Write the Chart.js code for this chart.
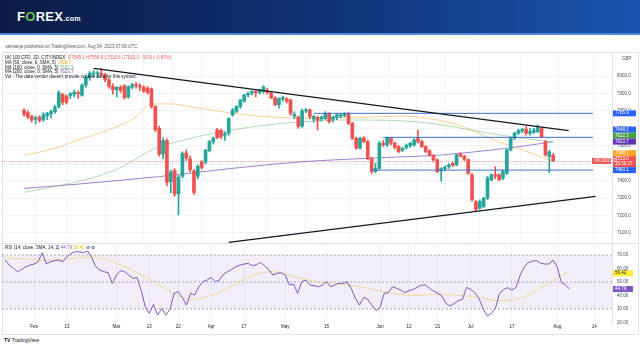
<!DOCTYPE html>
<html>
<head>
<meta charset="utf-8">
<script src="https://cdn.jsdelivr.net/npm/chart.js@4.4.0/dist/chart.umd.min.js"></script>
<style>
html, body { margin: 0; padding: 0; width: 640px; height: 360px; overflow: hidden; background: #fff;
  font-family: "Liberation Sans", Arial, sans-serif; }
#banner { position: absolute; left: 0; top: 0; width: 640px; height: 33px;
  background: linear-gradient(90deg, #0b1b45 0%, #0f2f70 45%, #1a54ad 100%); border-bottom: 2px solid #4f8ad8; }
#logo { position: absolute; left: 17px; top: 9px; color: #fff; font: bold 13px "Liberation Sans", Arial; letter-spacing: 0.3px; }
#logo .o { color: #6cc04a; }
#logo .com { font-size: 7px; }
.t { position: absolute; font-size: 4.5px; line-height: 5px; color: #131722; white-space: nowrap; }
#frame { position: absolute; left: 2px; top: 52px; width: 635px; height: 281px; border: 1px solid #e0e3eb; }
#sep { position: absolute; left: 2px; top: 243px; width: 636px; height: 1px; background: #e0e3eb; }
canvas { position: absolute; left: 0; }
</style>
</head>
<body>
<div id="banner"><div id="logo">F<span class="o">O</span>REX<span class="com">.com</span></div></div>
<div class="t" style="left:5px;top:44px;color:#555">vanvanja published on TradingView.com, Aug 04, 2023 07:09 UTC</div>
<div id="frame"></div>
<canvas id="price" width="640" height="190" style="top:53px"></canvas>
<canvas id="rsi" width="640" height="90" style="top:243px"></canvas>
<div id="sep"></div>
<div class="t" style="left:5px;top:55px">UK 100 CFD, 1D, CITYINDEX &nbsp;<span style="color:#ef5350">O7545.1 H7556.0 L7510.6 C7513.0 −50.9 (−0.67%)</span></div>
<div class="t" style="left:5px;top:60px">MA (50, close, 0, SMA, 5) <span style="color:#f2a93b">7508.7</span></div>
<div class="t" style="left:5px;top:64.5px">MA (100, close, 0, SMA, 5) <span style="color:#66bb6a">7622.3</span></div>
<div class="t" style="left:5px;top:69px">MA (200, close, 0, SMA, 5) <span style="color:#7e57c2">7623.7</span></div>
<div class="t" style="left:5px;top:73.5px">Vol · The data vendor doesn't provide volume data for this symbol.</div>
<div class="t" style="left:622px;top:56px;color:#555">GBP</div>
<div class="t" style="left:5px;top:245px">RSI (14, close, SMA, 14, 2) <span style="color:#7e57c2">44.79</span> <span style="color:#e5c100">56.42</span> ⊘ ⊘</div>
<div class="t" style="left:4px;top:338px;font-size:5px"><b>TV</b> TradingView</div>

<script>
// trading sessions (Easter Friday/Monday missing)
const dates = [
  '01-23','01-24','01-25','01-26','01-27','01-30','01-31',
  '02-01','02-02','02-03','02-06','02-07','02-08','02-09','02-10','02-13','02-14','02-15','02-16','02-17',
  '02-20','02-21','02-22','02-23','02-24','02-27','02-28',
  '03-01','03-02','03-03','03-06','03-07','03-08','03-09','03-10','03-13','03-14','03-15','03-16','03-17',
  '03-20','03-21','03-22','03-23','03-24','03-27','03-28','03-29','03-30','03-31',
  '04-03','04-04','04-05','04-06','04-11','04-12','04-13','04-14','04-17','04-18','04-19','04-20','04-21',
  '04-24','04-25','04-26','04-27','04-28',
  '05-01','05-02','05-03','05-04','05-05','05-08','05-09','05-10','05-11','05-12','05-15','05-16','05-17',
  '05-18','05-19','05-22','05-23','05-24','05-25','05-26','05-29','05-30','05-31',
  '06-01','06-02','06-05','06-06','06-07','06-08','06-09','06-12','06-13','06-14','06-15','06-16',
  '06-19','06-20','06-21','06-22','06-23','06-26','06-27','06-28','06-29','06-30',
  '07-03','07-04','07-05','07-06','07-07','07-10','07-11','07-12','07-13','07-14','07-17','07-18',
  '07-19','07-20','07-21','07-24','07-25','07-26','07-27','07-28','07-31',
  '08-01','08-02','08-03','08-04'
];
const opens = [
  7805,7790,7768,7752,7765,7748,7772,
  7784,7795,7825,7895,7885,7888,7895,7905,7890,7948,7990,8012,8014,
  8015,8008,7978,7940,7922,7935,7945,
  7880,7935,7950,7945,7935,7930,7925,7825,7700,7552,7630,7395,7458,
  7325,7425,7558,7525,7455,7425,7505,7505,7572,7622,
  7690,7688,7660,7672,7777,7798,7825,7855,7892,7901,7908,7906,7910,
  7915,7900,7875,7835,7868,
  7870,7862,7770,7765,7712,7800,7805,7752,7762,7753,7756,7786,7752,
  7762,7770,7773,7786,7729,7643,7586,7645,7624,7528,
  7452,7470,7614,7605,7643,7614,7595,7574,7590,7600,7605,7643,
  7624,7595,7570,7545,7519,7455,7468,7480,7498,7490,
  7552,7540,7520,7433,7280,7242,7251,7299,7404,7433,7433,7414,
  7442,7576,7643,7672,7685,7695,7672,7677,7681,
  7700,7624,7538,7545.1
];
const highs = [
  7812,7800,7775,7770,7772,7790,7792,
  7805,7830,7915,7900,7892,7905,7918,7915,7955,8000,8025,8032,8028,
  8045,8015,7985,7955,7940,7945,7950,
  7945,7958,7962,7955,7945,7940,7932,7830,7712,7645,7640,7460,7468,
  7430,7565,7575,7540,7465,7490,7515,7580,7630,7650,
  7700,7695,7680,7760,7815,7830,7865,7895,7905,7915,7920,7925,7945,
  7930,7910,7882,7875,7885,
  7875,7868,7795,7770,7810,7815,7812,7775,7770,7770,7795,7790,7770,
  7785,7785,7790,7792,7735,7650,7650,7652,7632,7535,
  7500,7625,7630,7650,7648,7620,7602,7592,7610,7620,7640,7690,
  7630,7600,7578,7550,7525,7475,7485,7498,7505,7552,
  7560,7545,7525,7440,7285,7290,7305,7425,7440,7480,7440,7460,
  7580,7650,7678,7695,7700,7710,7700,7700,7720,
  7705,7630,7575,7556.0
];
const lows = [
  7770,7755,7735,7725,7735,7740,7750,
  7760,7785,7815,7835,7838,7870,7880,7872,7885,7935,7975,7998,7990,
  8000,7968,7930,7895,7880,7905,7868,
  7872,7925,7930,7915,7905,7895,7815,7680,7540,7525,7370,7330,7310,
  7203,7415,7515,7450,7320,7410,7465,7495,7565,7610,
  7640,7640,7630,7660,7770,7790,7815,7850,7880,7890,7880,7895,7900,
  7895,7870,7830,7815,7855,
  7845,7775,7755,7700,7705,7790,7755,7735,7690,7740,7750,7730,7735,
  7750,7760,7765,7720,7635,7580,7580,7618,7520,7440,
  7445,7465,7595,7595,7605,7580,7560,7565,7580,7590,7598,7615,
  7590,7560,7540,7510,7445,7396,7455,7470,7482,7485,
  7535,7515,7435,7282,7222,7235,7245,7290,7398,7410,7400,7405,
  7435,7570,7635,7665,7675,7660,7660,7670,7675,
  7650,7540,7445,7510.6
];
const closes = [
  7782,7765,7748,7760,7745,7778,7786,
  7796,7822,7905,7848,7850,7899,7906,7898,7948,7992,8017,8017,8018,
  8008,7978,7940,7922,7935,7918,7875,
  7938,7950,7945,7937,7912,7905,7825,7692,7552,7630,7390,7450,7322,
  7420,7555,7530,7462,7332,7482,7475,7575,7624,7643,
  7646,7652,7670,7756,7805,7825,7862,7891,7902,7912,7905,7920,7937,
  7905,7875,7835,7872,7878,
  7855,7786,7780,7712,7800,7806,7768,7768,7745,7765,7786,7738,7765,
  7778,7776,7780,7729,7643,7586,7643,7624,7528,7452,
  7470,7614,7605,7643,7614,7590,7566,7585,7603,7614,7634,7624,
  7595,7566,7547,7519,7452,7468,7478,7490,7488,7547,
  7540,7522,7442,7290,7235,7280,7299,7414,7433,7425,7404,7452,
  7576,7643,7672,7687,7693,7672,7681,7690,7705,
  7652,7547,7564,7513.0
];
const rsi = [
  66.3,62.5,60.1,57.6,59.3,61.3,62.5,
  63.3,65.0,71.7,63.3,65.0,65.8,66.3,65.0,68.7,71.2,72.4,72.4,71.7,
  72.9,68.2,61.3,58.8,57.6,56.9,49.0,
  55.1,58.4,57.6,55.1,52.7,53.4,44.0,31.7,26.7,33.4,25.5,30.4,25.5,
  29.7,41.6,42.8,38.6,32.9,41.6,40.3,46.5,50.2,51.4,
  53.4,50.2,51.4,55.9,57.6,59.3,61.3,62.5,63.3,63.8,62.1,62.8,64.5,
  61.8,59.3,55.1,56.4,56.9,
  55.1,47.7,48.5,41.6,50.2,51.4,47.7,47.2,46.5,47.7,50.2,46.5,47.7,
  49.0,49.0,50.2,45.3,37.9,32.9,38.6,37.1,32.9,28.7,
  31.2,41.6,42.1,46.5,45.3,44.0,42.1,43.5,44.5,46.0,47.7,47.7,
  45.3,43.3,41.6,39.6,34.2,32.2,34.2,36.1,37.1,46.0,
  44.5,42.1,37.9,30.4,24.8,26.7,30.4,41.6,44.5,45.8,44.0,46.0,
  55.1,61.3,64.3,65.5,65.8,63.8,63.3,63.3,66.3,
  61.3,49.5,47.7,44.79
];
const futureDates = ['08-07','08-08','08-09','08-10','08-11','08-14','08-15','08-16','08-17','08-18','08-21'];

const sma50 = [['01-23',7545],['02-01',7580],['02-13',7640],['02-23',7700],['03-03',7765],['03-09',7840],
  ['03-16',7840],['03-23',7824],['04-05',7793],['04-19',7771],['05-04',7760],['05-18',7760],['06-01',7765],
  ['06-12',7770],['06-23',7748],['07-03',7715],['07-13',7640],['07-21',7590],['07-28',7553],['08-04',7508.7]];
const sma100 = [['01-23',7333],['02-07',7380],['02-23',7455],['03-13',7595],['03-21',7630],['03-29',7662],
  ['04-18',7708],['05-05',7737],['05-23',7748],['06-08',7745],['06-26',7720],['07-12',7673],['07-26',7640],['08-04',7622.3]];
const sma200 = [['01-23',7355],['02-10',7380],['03-13',7423],['04-06',7468],['05-05',7508],['06-01',7530],
  ['06-26',7547],['07-14',7578],['07-26',7600],['08-04',7623.7]];
const rsiSma = [['01-23',68],['01-30',67],['02-06',66],['02-13',67],['02-20',68.5],['02-27',66],['03-06',60],
  ['03-13',52],['03-20',43],['03-27',37],['04-03',40],['04-12',47],['04-19',55],['04-26',57.6],['05-03',54],
  ['05-10',50.5],['05-17',49],['05-24',47],['05-31',44],['06-07',41],['06-14',40],['06-21',41],['06-28',40],
  ['07-05',38.6],['07-12',36.1],['07-19',38],['07-26',45.5],['08-01',53],['08-03',56.5],['08-04',56.42]];

const levelLines = [[7785.9, '05-10'], [7648.1, '06-05'], [7460.1, '05-31']];
const trendLines = [[['02-16', 8044], ['08-10', 7687]], [['04-06', 7046], ['08-21', 7309]]];
const lastPrice = 7513.0;
const priceTagValues = [7785.9, 7648.1, 7622.3, 7623.7, 7508.7, 7513.0, 7460.1];
const priceTicks = [7100, 7200, 7300, 7400, 7500, 7600, 7700, 7800, 7900, 8000];
const rsiTicks = [20, 30, 40, 50, 60, 70];
const rsiTagValues = [56.42, 44.79];
const rsiLevels = [70, 50, 30];
const tickDates = ['02-01','02-13','03-01','03-13','03-22','04-03','04-17','05-01','05-15','06-01','06-12','06-21','07-03','07-17','08-01','08-14'];
const tickLabels = ['Feb','13','Mar','13','22','Apr','17','May','15','Jun','12','21','Jul','17','Aug','14'];

// ---------- helpers ----------
const allDates = dates.concat(futureDates);
const origin = dates.indexOf('02-01');
const sess = d => allDates.indexOf(d) - origin;
const pts = arr => arr.map(([d, v]) => ({ x: sess(d), y: v }));
const tickPos = tickDates.map(sess);

const X_MIN = -7.77, X_MAX = 140.3;
const UP = '#26a69a', DOWN = '#ef5350';
const candleCol = closes.map((c, k) => c >= opens[k] ? UP : DOWN);
const FONT = { family: '"Liberation Sans", Arial, sans-serif', size: 4.5 };
const GRID = '#f0f3fa';

const noPad = s => { s.paddingTop = 0; s.paddingBottom = 0; s.paddingLeft = 0; s.paddingRight = 0; };

const xScale = (showLabels) => ({
  type: 'linear', min: X_MIN, max: X_MAX,
  afterBuildTicks: s => { s.ticks = tickPos.map(v => ({ value: v })); },
  ticks: { display: showLabels, autoSkip: false, maxRotation: 0, padding: 1, color: '#131722', font: FONT,
    callback: v => tickLabels[tickPos.indexOf(v)] },
  grid: { color: GRID, drawTicks: false },
  border: { display: false },
  afterFit: s => { s.height = showLabels ? 10 : 0; noPad(s); }
});

const yScale = (min, max, ticks, digits) => ({
  position: 'right', min, max,
  afterBuildTicks: s => { s.ticks = ticks.map(v => ({ value: v })); },
  ticks: { padding: 5, color: '#4a4e5a', font: FONT, callback: v => v.toFixed(digits) },
  grid: { color: GRID, drawTicks: false },
  border: { display: true, color: '#e0e3eb' },
  afterFit: s => { s.width = 26; noPad(s); }
});

const tagText = (ctx, x, y, w, h, bg, fg, lines) => {
  ctx.fillStyle = bg;
  ctx.fillRect(x, y, w, h);
  ctx.fillStyle = fg;
  ctx.font = '4.5px "Liberation Sans", Arial';
  ctx.textBaseline = 'middle';
  ctx.textAlign = 'left';
  lines.forEach((t, n) => ctx.fillText(t, x + 2, y + 2.9 + n * 5.2));
};

// stack tags so they do not overlap, keeping the lowest one in place
const stackTags = (items) => {
  for (let k = items.length - 2; k >= 0; k--) {
    const lim = items[k + 1].top - items[k].h;
    if (items[k].top > lim) items[k].top = lim;
  }
  return items;
};

const priceTagStyle = [
  ['#2962ff', '#fff'], ['#2962ff', '#fff'], ['#43a047', '#fff'], ['#5e35b1', '#fff'],
  ['#ffa726', '#fff'], ['#ef5350', '#fff'], ['#2962ff', '#fff']
];

const priceOverlay = {
  id: 'priceOverlay',
  beforeDatasetsDraw(chart) {
    const { ctx, chartArea: a, scales: { y } } = chart;
    const py = Math.round(y.getPixelForValue(lastPrice)) + 0.5;
    ctx.save();
    ctx.strokeStyle = 'rgba(239,83,80,0.55)';
    ctx.setLineDash([1, 1]);
    ctx.lineWidth = 1;
    ctx.beginPath(); ctx.moveTo(a.left, py); ctx.lineTo(a.right, py); ctx.stroke();
    ctx.restore();
  },
  afterDraw(chart) {
    const { ctx, chartArea: a, scales: { y } } = chart;
    const items = priceTagValues.map((v, k) => {
      const h = v === lastPrice ? 11 : 6;
      return { v, k, h, top: y.getPixelForValue(v) - 3 };
    });
    stackTags(items);
    ctx.save();
    items.forEach(it => {
      const [bg, fg] = priceTagStyle[it.k];
      const lines = [it.v.toFixed(1)];
      if (it.v === lastPrice) lines.push('15:50:27');
      tagText(ctx, a.right + 1, it.top, 23, it.h, bg, fg, lines);
    });
    const ly = y.getPixelForValue(lastPrice) - 3;
    tagText(ctx, a.right - 20, ly, 19, 6, '#ef5350', '#fff', ['UK100CFD']);
    ctx.restore();
  }
};

const rsiTagStyle = [['#ffeb3b', '#131722'], ['#7e57c2', '#fff']];
const rsiOverlay = {
  id: 'rsiOverlay',
  afterDraw(chart) {
    const { ctx, chartArea: a, scales: { y } } = chart;
    ctx.save();
    rsiTagValues.forEach((v, k) => {
      const [bg, fg] = rsiTagStyle[k];
      tagText(ctx, a.right + 1, y.getPixelForValue(v) - 3, 20, 6, bg, fg, [v.toFixed(2)]);
    });
    ctx.restore();
  }
};

// ---------- price pane ----------
const lineDs = (data, color, extra) => Object.assign({
  type: 'line', data, borderColor: color, borderWidth: 1, pointRadius: 0,
  cubicInterpolationMode: 'monotone', fill: false, order: 3
}, extra || {});

const priceDatasets = [
  ...trendLines.map(t => lineDs(pts(t), '#131722', { order: 0, borderWidth: 1.2, cubicInterpolationMode: 'default', tension: 0 })),
  ...levelLines.map(([v, d]) => lineDs([{ x: sess(d), y: v }, { x: X_MAX, y: v }], '#3f6fd0', { order: 0, tension: 0 })),
  {
    type: 'bar', order: 1, grouped: false, barThickness: 3, minBarLength: 1,
    data: dates.map((d, k) => ({ x: sess(d), y: [opens[k], closes[k]] })),
    backgroundColor: candleCol
  },
  {
    type: 'bar', order: 2, grouped: false, barThickness: 1,
    data: dates.map((d, k) => ({ x: sess(d), y: [lows[k], highs[k]] })),
    backgroundColor: candleCol
  },
  lineDs(pts(sma50), 'rgba(242,169,59,0.55)'),
  lineDs(pts(sma100), 'rgba(102,187,106,0.5)'),
  lineDs(pts(sma200), 'rgba(126,87,194,0.75)')
];

new Chart(document.getElementById('price'), {
  type: 'bar',
  data: { datasets: priceDatasets },
  plugins: [priceOverlay],
  options: {
    responsive: false, animation: false, devicePixelRatio: 1,
    layout: { padding: { left: 2, right: 2, top: 0, bottom: 0 } },
    plugins: { legend: { display: false }, tooltip: { enabled: false } },
    scales: { x: xScale(false), y: yScale(7042, 8132, priceTicks, 1) }
  }
});

// ---------- RSI pane ----------
const rsiDatasets = [
  lineDs(dates.map((d, k) => ({ x: sess(d), y: rsi[k] })), '#7e57c2', { order: 0, cubicInterpolationMode: 'default', tension: 0 }),
  lineDs(pts(rsiSma), 'rgba(240,200,90,0.6)', { order: 1 }),
  ...rsiLevels.map(v => lineDs([{ x: X_MIN, y: v }, { x: X_MAX, y: v }], '#9598a1',
    { order: 2, borderDash: [2, 2], borderWidth: 0.8, tension: 0 })),
  lineDs([{ x: X_MIN, y: rsiLevels[0] }, { x: X_MAX, y: rsiLevels[0] }], 'rgba(0,0,0,0)',
    { order: 4, fill: { value: rsiLevels[2] }, backgroundColor: 'rgba(126,87,194,0.1)', tension: 0 })
];

const rsiY = yScale(19.6, 78.9, rsiTicks, 2);
rsiY.grid = { display: false, drawTicks: false };

new Chart(document.getElementById('rsi'), {
  type: 'line',
  data: { datasets: rsiDatasets },
  plugins: [rsiOverlay],
  options: {
    responsive: false, animation: false, devicePixelRatio: 1,
    layout: { padding: { left: 2, right: 2, top: 0, bottom: 0 } },
    plugins: { legend: { display: false }, tooltip: { enabled: false } },
    scales: { x: xScale(true), y: rsiY }
  }
});
</script>
</body>
</html>
